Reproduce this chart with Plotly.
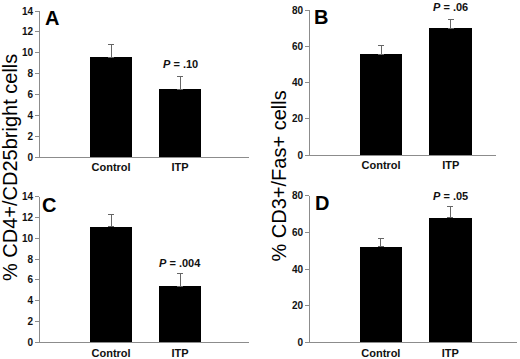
import plotly.graph_objects as go

categories = ["Control", "ITP"]
a_means = [9.55, 6.5]
a_err = [1.2, 1.2]
b_means = [55.7, 69.9]
b_err = [4.8, 5.1]
c_means = [11.1, 5.4]
c_err = [1.15, 1.2]
d_means = [52.2, 68.0]
d_err = [4.5, 6.0]
p_texts = ["P = .10", "P = .06", "P = .004", "P = .05"]
panel_letters = ["A", "B", "C", "D"]

W, H = 520, 359
FONT = "Liberation Sans, Arial, sans-serif"

def xd(a, b):
    return [a / W, b / W]

def yd(top, bottom):
    return [1 - bottom / H, 1 - top / H]

panels = [
    # means, err, xdomain px, ydomain px, xrange, yrange, dtick, p y, letter pos px
    (a_means, a_err, (40, 249), (11, 157), [-1.03, 2.0], [0, 14], 2, 8.9, (52, 18)),
    (b_means, b_err, (310, 496), (10, 155), [-1.02, 1.65], [0, 80], 20, 81.9, (321, 17)),
    (c_means, c_err, (40, 249), (196.7, 342.3), [-1.03, 2.0], [0, 14], 2, 7.6, (49, 205)),
    (d_means, d_err, (310, 517), (195.7, 342.3), [-1.02, 1.96], [0, 80], 20, 80.0, (322, 203)),
]

fig = go.Figure()
annotations = []
for i, (m, e, xdom, ydom, xr, yr, dt, py, lp) in enumerate(panels):
    n = "" if i == 0 else str(i + 1)
    fig.add_trace(go.Bar(
        x=[0, 1], y=m, width=0.61,
        marker=dict(color="black", line=dict(width=0)),
        error_y=dict(type="data", array=e, arrayminus=[0, 0], symmetric=False,
                     color="#666666", thickness=1, width=3),
        xaxis="x" + n, yaxis="y" + n, showlegend=False,
    ))
    fig.update_layout(**{
        "xaxis" + n: dict(domain=xd(*xdom), range=xr, anchor="y" + n, automargin=False,
                          tickmode="array", tickvals=[0, 1], ticktext=categories,
                          showline=True, linecolor="#8c8c8c", linewidth=1, ticks="",
                          showgrid=False, zeroline=False,
                          tickfont=dict(family=FONT, size=11, color="#111111", weight="bold")),
        "yaxis" + n: dict(domain=yd(*ydom), range=yr, anchor="x" + n, dtick=dt, automargin=False,
                          showline=True, linecolor="#8c8c8c", linewidth=1,
                          ticks="outside", ticklen=4, tickcolor="#8c8c8c",
                          showgrid=False, zeroline=False,
                          tickfont=dict(family=FONT, size=10, color="#111111", weight="bold"),
                          tickformat="d"),
    })
    ptxt = p_texts[i].replace("P", "<i>P</i>")
    annotations.append(dict(x=1, y=(py - yr[0]) / (yr[1] - yr[0]), xref="x" + n, yref="y" + n + " domain",
                            xanchor="center", yanchor="middle",
                            text=f"<b>{ptxt}</b>",
                            showarrow=False, font=dict(family=FONT, size=11, color="#111111")))
    annotations.append(dict(x=lp[0] / W, y=1 - lp[1] / H, xref="paper", yref="paper",
                            xanchor="center", yanchor="middle",
                            text=f"<b>{panel_letters[i]}</b>", showarrow=False,
                            font=dict(family=FONT, size=20, color="black")))

annotations.append(dict(x=10 / W, y=1 - 168 / H, xref="paper", yref="paper",
                        xanchor="center", yanchor="middle",
                        text="% CD4+/CD25bright cells", textangle=-90, showarrow=False,
                        font=dict(family=FONT, size=20, color="black")))
annotations.append(dict(x=278 / W, y=1 - 176.5 / H, xref="paper", yref="paper",
                        xanchor="center", yanchor="middle",
                        text="% CD3+/Fas+ cells", textangle=-90, showarrow=False,
                        font=dict(family=FONT, size=20, color="black")))

fig.update_layout(width=W, height=H, margin=dict(l=0, r=0, t=0, b=0, autoexpand=False),
                  paper_bgcolor="white", plot_bgcolor="white",
                  annotations=annotations, bargap=0)
fig.write_html("out.html", config={"displayModeBar": False},
               post_script="document.body.style.margin='0';document.body.style.padding='0';")
